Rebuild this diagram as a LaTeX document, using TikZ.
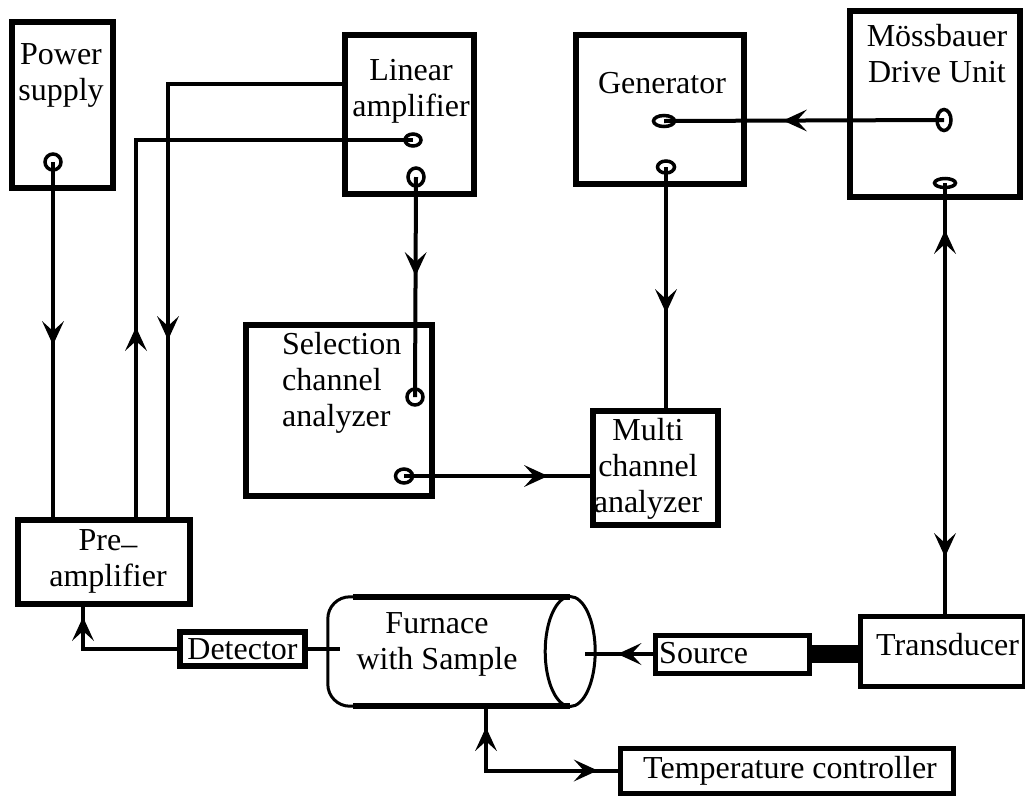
\documentclass[tikz,border=0pt]{standalone}
\usepackage{fontspec}
\setmainfont{Liberation Serif}
\usetikzlibrary{arrows.meta,shapes.geometric,decorations.markings}
\tikzset{
 box/.style={draw, line width=6pt, inner sep=0pt, font=\fontsize{32}{36}\selectfont},
 txt/.style={inner sep=0pt, align=center, font=\fontsize{32}{36}\selectfont},
 port/.style 2 args={draw, ellipse, line width=3.5pt, inner sep=0pt, minimum width=#1, minimum height=#2},
 wire/.style={line width=4pt},
 barb/.tip={Stealth[length=24pt,width=22pt,inset=10pt,line width=0pt]},
 fwd/.style={postaction={decorate, decoration={markings, mark=at position #1 with {\arrow[line width=4pt]{barb}}}}},
 bwd/.style={postaction={decorate, decoration={markings, mark=at position #1 with {\arrowreversed[line width=4pt]{barb}}}}}
}
\begin{document}
\begin{tikzpicture}[x=1pt,y=-1pt]
 \useasboundingbox (0,0) rectangle (1025,796);
 % boxes
 \node[box, minimum width=101, minimum height=166] (pwr) at (62.5,105) {};
 \node[txt, anchor=north] (pwrtxt) at (61,43) {Power\\supply};
 \node[box, minimum width=129, minimum height=159] (lin) at (409.5,114.5) {};
 \node[txt, anchor=north] (lintxt) at (411,59) {Linear\\amplifier};
 \node[box, minimum width=168, minimum height=149] (gen) at (660,109.5) {};
 \node[txt, anchor=north] (gentxt) at (662,72) {Generator};
 \node[box, minimum width=170, minimum height=186] (mdu) at (935,104) {};
 \node[txt, anchor=north] (mdutxt) at (937,24) {Mössbauer\\Drive Unit};
 \node[box, minimum width=186, minimum height=171] (sca) at (339,410.5) {};
 \node[txt, anchor=north west, align=left] (scatxt) at (282,332) {Selection\\channel\\analyzer};
 \node[box, minimum width=125, minimum height=114] (mca) at (655.5,468) {};
 \node[txt, anchor=north] (mcatxt) at (648,418) {Multi\\channel\\analyzer};
 \node[box, minimum width=172, minimum height=84] (pre) at (104,562) {};
 \node[txt, anchor=north] (pretxt) at (108,529) {Pre\raisebox{-4pt}{--}\\amplifier};
 \node[box, minimum width=125, minimum height=34] (det) at (242.5,649) {Detector};
 \node[box, line width=5pt, minimum width=154, minimum height=38] (src) at (732,654) {};
 \node[txt, anchor=base west] (srctxt) at (659,663) {Source};
 \node[box, line width=5pt, minimum width=164, minimum height=70] (trd) at (942,651) {};
 \node[txt, anchor=base west] (trdtxt) at (876,655) {Transducer};
 \node[box, line width=5pt, minimum width=333, minimum height=45] (tmp) at (786.5,770.5) {};
 \node[txt, anchor=base west] (tmptxt) at (643,778) {Temperature controller};
 % furnace
 \node[minimum width=242, minimum height=109] (furn) at (449,651.5) {};
 \draw[line width=3pt, rounded corners=22pt] ([xshift=30pt]furn.north west) -- (furn.north west) -- (furn.south west) -- ([xshift=30pt]furn.south west);
 \draw[line width=6pt] ([xshift=25pt]furn.north west) -- (furn.north east) ([xshift=25pt]furn.south west) -- (furn.south east);
 \draw[line width=3pt] (furn.east) ellipse (25 and 55);
 \node[txt, anchor=north] (furntxt) at (437,612) {Furnace\\with Sample};
 % ports
 \node[port={16}{16}] (ps1) at (53,162) {};
 \node[port={16}{12}] (la1) at (413,140) {};
 \node[port={16}{18}] (la2) at (416,177) {};
 \node[port={21}{11}] (gen1) at (664,121) {};
 \node[port={17}{12}] (gen2) at (666,167) {};
 \node[port={14}{21}] (md1) at (944,120) {};
 \node[port={21}{9}] (md2) at (945,183) {};
 \node[port={16}{16}] (sc1) at (415,397) {};
 \node[port={17}{14}] (sc2) at (404,476) {};
 \coordinate (pa) at (136,0);
 \coordinate (pb) at (168,0);
 \coordinate (ain) at (345,84);
 % wires
 \draw[wire, fwd=183pt] (ps1.center) -- (ps1.center |- pre.north);
 \draw[wire, fwd=190pt] (pre.north -| pa) |- (la1.center);
 \draw[wire, fwd=433pt] (ain) -| (pre.north -| pb);
 \draw[wire, fwd=99pt] (la2.center) -- (sc1.center);
 \draw[wire, fwd=144pt] (sc2.center) -- (sc2.center -| mca.west);
 \draw[wire, fwd=146pt] (gen2.center) -- (gen2.center |- mca.north);
 \draw[wire, fwd=161pt] (md1.center) -- (gen1.center);
 \draw[wire, bwd=47pt, fwd=374pt] (md2.center) -- (md2.center |- trd.north);
 \draw[wire, fwd=126pt] (det.west) -| ([xshift=-21pt]pre.south);
 \draw[wire] (det.east) -- ([xshift=12pt]det.east -| furn.west);
 \draw[wire, fwd=35pt] (src.west) -- ([xshift=15pt]src.west -| furn.east);
 \draw[line width=18pt] (src.east) -- (src.east -| trd.west);
 \draw[wire, bwd=21pt, fwd=176pt] ([xshift=37pt]furn.south) |- (tmp.west);
\end{tikzpicture}
\end{document}
